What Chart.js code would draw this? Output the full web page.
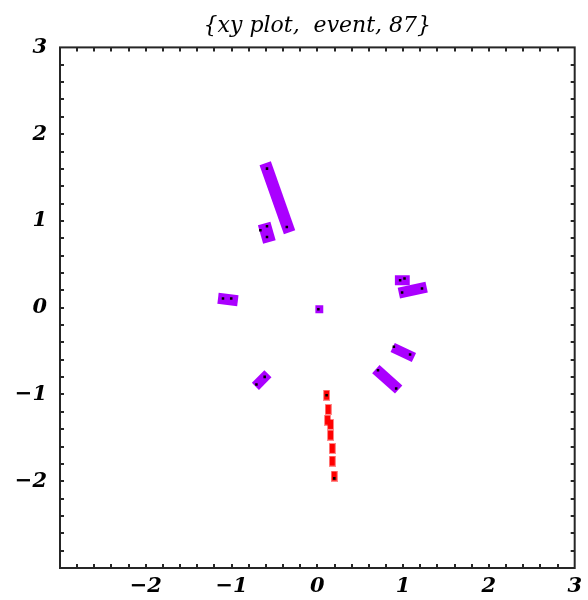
<!DOCTYPE html>
<html>
<head>
<meta charset="utf-8">
<script src="https://cdn.jsdelivr.net/npm/chart.js@4/dist/chart.umd.min.js"></script>
<style>
  html, body { margin: 0; padding: 0; background: #ffffff; }
  #wrap { width: 588px; height: 600px; }
</style>
</head>
<body>
<div id="wrap"><canvas id="c" width="588" height="600"></canvas></div>
<script>
// ---- data ----------------------------------------------------------
const plotTitle = '{xy plot,  event, 87}';
const axisRange = [-3, 3];
const minorStep = 0.2;
const xLabelValues = [-2, -1, 0, 1, 2, 3];
const yLabelValues = [-2, -1, 0, 1, 2, 3];

// calorimeter-like hit bars: [x1, y1, x2, y2]
const purpleHits = [
  [-0.608, 1.664, -0.324, 0.869],
  [-0.620, 0.970, -0.559, 0.758],
  [-1.158, 0.109, -0.927, 0.081],
  [-0.023, -0.017, 0.069, -0.017],
  [0.904, 0.317, 1.077, 0.317],
  [0.950, 0.167, 1.274, 0.236],
  [0.878, -0.459, 1.126, -0.574],
  [0.682, -0.707, 0.948, -0.943],
  [-0.576, -0.762, -0.722, -0.907]
];

// track hits
const trackX = [0.108, 0.127, 0.119, 0.154, 0.154, 0.174, 0.174, 0.197];
const trackY = [-1.008, -1.172, -1.296, -1.345, -1.468, -1.622, -1.768, -1.941];

// reconstructed points
const dotX = [-0.587, -0.356, -0.664, -0.587, -0.587, -1.100, -1.004, 0.012,
              0.965, 1.016, 0.988, 1.220, 0.892, 1.081, 0.707, 0.919,
              -0.614, -0.710, 0.108, 0.197];
const dotY = [1.603, 0.931, 0.893, 0.939, 0.815, 0.106, 0.106, -0.017,
              0.317, 0.336, 0.175, 0.221, -0.451, -0.539, -0.720, -0.931,
              -0.797, -0.884, -1.008, -1.967];

// ---- styling -------------------------------------------------------
const hitWidths = [12, 13, 11, 8, 10, 11, 10, 11, 10];
const purple = 'rgb(170, 0, 255)';
const red = 'rgb(255, 0, 0)';
const frameColor = '#262626';
const labelFont = { family: 'DejaVu Serif', style: 'italic', weight: 'bold', size: 21 };

// small upright rectangle used for the track hits
const trackMark = document.createElement('canvas');
trackMark.width = 7; trackMark.height = 11;
(function () {
  const g = trackMark.getContext('2d');
  g.fillStyle = 'rgba(255, 0, 0, 0.45)';
  g.fillRect(0, 0, 7, 11);
  g.fillStyle = red;
  g.fillRect(1, 1, 5, 9);
})();

function fmt(v) {
  const r = Math.round(v);
  return r < 0 ? '\u2212' + Math.abs(r) : String(r);
}
function labelFor(list) {
  return function (value) {
    const r = Math.round(value);
    if (Math.abs(value - r) < 1e-6 && list.includes(r)) return fmt(r);
    return '';
  };
}

const datasets = [];
datasets.push({
  label: 'points',
  order: 0,
  data: dotX.map((x, i) => ({ x, y: dotY[i] })),
  showLine: false,
  pointStyle: 'rect',
  pointRadius: 1.8,
  pointBackgroundColor: '#000',
  pointBorderWidth: 0
});
datasets.push({
  label: 'track',
  order: 1,
  data: trackX.map((x, i) => ({ x, y: trackY[i] })),
  showLine: false,
  pointStyle: trackMark,
  pointRadius: 5
});
purpleHits.forEach((h, i) => {
  datasets.push({
    label: 'hit ' + (i + 1),
    order: 2,
    data: [{ x: h[0], y: h[1] }, { x: h[2], y: h[3] }],
    showLine: true,
    borderColor: purple,
    borderWidth: hitWidths[i],
    borderCapStyle: 'butt',
    pointRadius: 0
  });
});

// frame with inward minor ticks on all four sides
const framePlugin = {
  id: 'frame',
  afterDraw(chart) {
    const { ctx, chartArea: a, scales } = chart;
    ctx.save();
    ctx.strokeStyle = frameColor;
    ctx.lineWidth = 2;
    ctx.strokeRect(a.left, a.top, a.right - a.left, a.bottom - a.top);
    const len = 4;
    scales.x.ticks.forEach(t => {
      if (t.value <= axisRange[0] + 1e-6 || t.value >= axisRange[1] - 1e-6) return;
      const px = Math.round(scales.x.getPixelForValue(t.value));
      ctx.beginPath();
      ctx.moveTo(px, a.bottom); ctx.lineTo(px, a.bottom - len);
      ctx.moveTo(px, a.top); ctx.lineTo(px, a.top + len);
      ctx.stroke();
    });
    scales.y.ticks.forEach(t => {
      if (t.value <= axisRange[0] + 1e-6 || t.value >= axisRange[1] - 1e-6) return;
      const py = Math.round(scales.y.getPixelForValue(t.value));
      ctx.beginPath();
      ctx.moveTo(a.left, py); ctx.lineTo(a.left + len, py);
      ctx.moveTo(a.right, py); ctx.lineTo(a.right - len, py);
      ctx.stroke();
    });
    ctx.restore();
  }
};

new Chart(document.getElementById('c'), {
  type: 'scatter',
  data: { datasets },
  options: {
    responsive: false,
    animation: false,
    devicePixelRatio: 1,
    layout: { padding: { left: 0, right: 9, top: 0, bottom: 0 } },
    plugins: {
      legend: { display: false },
      tooltip: { enabled: false },
      title: {
        display: true,
        text: plotTitle,
        fullSize: false,
        color: '#000',
        font: { family: 'DejaVu Serif', style: 'italic', weight: 'normal', size: 22 },
        padding: { top: 13, bottom: 8 }
      }
    },
    scales: {
      x: {
        type: 'linear',
        min: axisRange[0], max: axisRange[1],
        grid: { display: false, drawTicks: false },
        border: { display: false },
        ticks: {
          stepSize: minorStep, autoSkip: false, maxRotation: 0,
          color: '#000', font: labelFont, padding: 6,
          callback: labelFor(xLabelValues)
        },
        afterFit(s) { s.height = 32; }
      },
      y: {
        type: 'linear',
        min: axisRange[0], max: axisRange[1],
        grid: { display: false, drawTicks: false },
        border: { display: false },
        ticks: {
          stepSize: minorStep, autoSkip: false,
          color: '#000', font: labelFont, padding: 13,
          callback: labelFor(yLabelValues)
        },
        afterFit(s) { s.width = 60; }
      }
    }
  },
  plugins: [framePlugin]
});
</script>
</body>
</html>
